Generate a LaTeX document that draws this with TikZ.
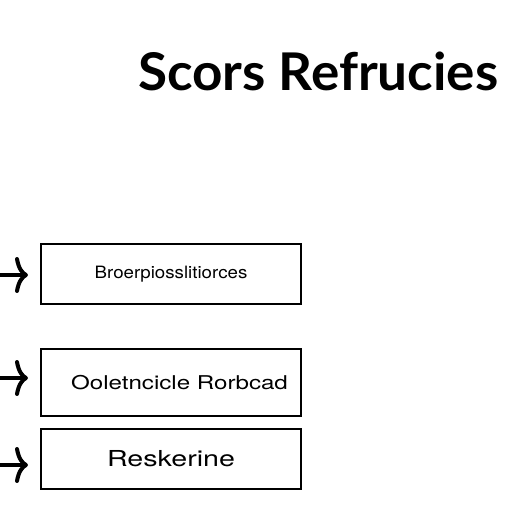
\documentclass[tikz,border=0pt]{standalone}
\usepackage{fontspec}
\setmainfont{TeX Gyre Heros}
\newfontfamily\titlefont{Lato}
\usetikzlibrary{arrows.meta,positioning}
\tikzset{
  itembox/.style={draw,line width=2pt,minimum width=260pt,anchor=north west,inner sep=0pt},
  itemarrow/.style={line width=4pt,-{Computer Modern Rightarrow[length=13pt,width=36pt]}}
}
\begin{document}
\begin{tikzpicture}[x=1pt,y=-1pt]
	\useasboundingbox (0,0) rectangle (512,512);
	\node[anchor=base west,inner sep=0pt] (title) at (138,90){\titlefont\bfseries\fontsize{52}{60}\selectfont\scalebox{1.02}[1]{Scors Refrucies}};
	\node[itembox,minimum height=60pt] (b1) at (40,243){\fontsize{17}{19}\selectfont\scalebox{1.1}[1]{Broerpiosslitiorces}};
	\node[itembox,minimum height=67pt] (b2) at (40,348){\fontsize{19}{21}\selectfont\hspace{17pt}\scalebox{1.27}[1]{Ooletncicle Rorbcad}};
	\node[itembox,minimum height=60pt] (b3) at (40,428){\fontsize{22}{24}\selectfont\scalebox{1.3}[1]{Reskerine}};
	\coordinate (a1) at (0,275);\coordinate (a2) at (0,378);\coordinate (a3) at (0,465);
	\draw[itemarrow] (a1) -- ([xshift=-12pt]b1.west |- a1);
	\draw[itemarrow] (a2) -- ([xshift=-12pt]b2.west |- a2);
	\draw[itemarrow] (a3) -- ([xshift=-12pt]b3.west |- a3);
\end{tikzpicture}
\end{document}
